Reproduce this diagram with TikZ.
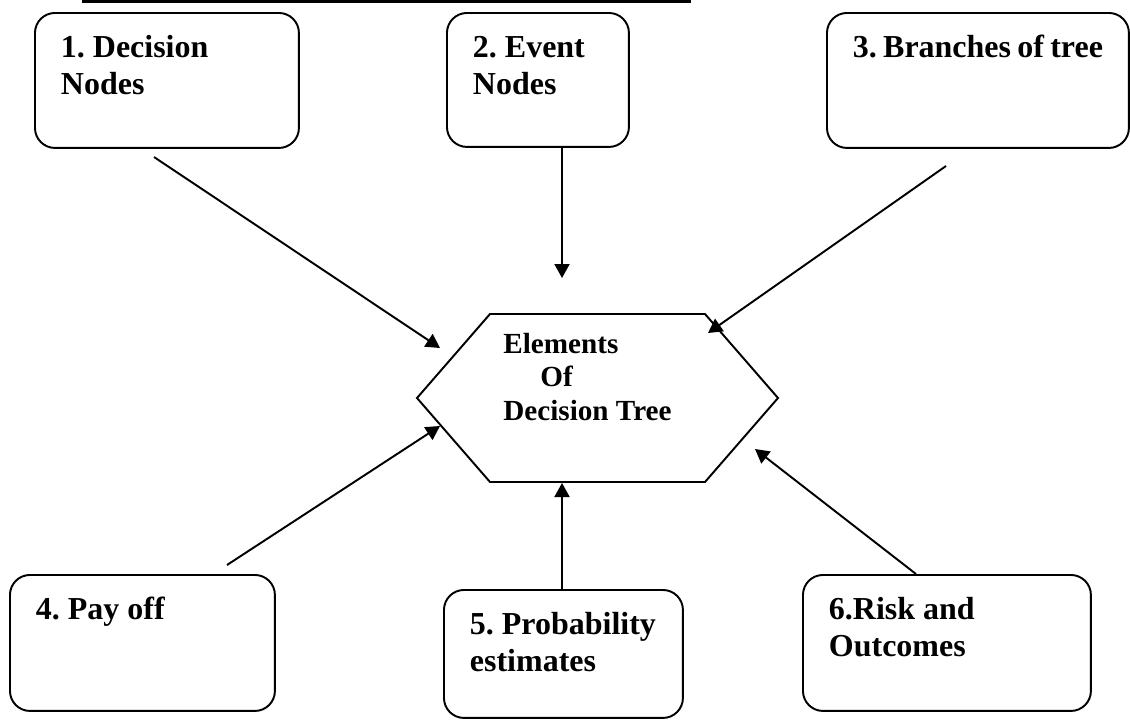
\documentclass[tikz,border=0pt]{standalone}
\usepackage{fontspec}
\setmainfont{Liberation Serif}
\usepackage{tikz}
\usetikzlibrary{arrows.meta}
\frenchspacing

\tikzset{
  elem/.style={draw, rounded corners=0.4cm, line width=1.1pt, anchor=north west, align=flush left,
    inner xsep=0.52cm, inner ysep=0pt, text height=0.9cm,
    font=\fontsize{18.2pt}{21pt}\selectfont\bfseries},
  pointer/.style={line width=1.1pt, -{Triangle[length=0.28cm, width=0.3cm]}}
}

\begin{document}
\begin{tikzpicture}[x=0.02cm, y=-0.02cm]
            \useasboundingbox (0,0) rectangle (1130,720);
            \fill (82,0) rectangle (691,3.3);

            \node[elem, text width=4.24cm, text depth=1.8cm] (b1) at (34,12) {1. Decision\\Nodes};
            \node[elem, text width=2.6cm, text depth=1.78cm] (b2) at (446,12) {2. Event\\Nodes};
            \node[elem, text width=5.0cm, text depth=1.8cm] (b3) at (826,12) {3.~Branches~of~tree};
            \node[elem, text width=4.26cm, text depth=1.82cm] (b4) at (9,574) {4. Pay off};
            \node[elem, text width=3.74cm, text depth=1.66cm] (b5) at (443,589) {5.~Probability\\estimates};
            \node[elem, text width=4.72cm, text depth=1.82cm] (b6) at (802,574) {6.Risk and\\Outcomes};

            \draw[line width=1.1pt] (417,398) -- (490,314) -- (705,314) -- (778,398) -- (705,482) -- (490,482) -- cycle;
            \node[anchor=base west, align=flush left, inner sep=0pt,
              font=\fontsize{16.6pt}{19pt}\selectfont\bfseries] (dt) at (503,420)
              {Elements\\\hspace{0.74cm}Of\\Decision Tree};

            \coordinate (s1) at (154,157);
            \coordinate (t1) at (440,348);
            \coordinate (t2) at (562,278);
            \coordinate (s3) at (946,166);
            \coordinate (t3) at (708,333);
            \coordinate (s4) at (227,565);
            \coordinate (t4) at (440,426);
            \coordinate (t5) at (562,483);
            \coordinate (s6) at (916,574);
            \coordinate (t6) at (755,449);

            \draw[pointer] (s1) -- (t1);
            \draw[pointer] (t2 |- b2.south) -- (t2);
            \draw[pointer] (s3) -- (t3);
            \draw[pointer] (s4) -- (t4);
            \draw[pointer] (t5 |- b5.north) -- (t5);
            \draw[pointer] (s6) -- (t6);
        \end{tikzpicture}
\end{document}
